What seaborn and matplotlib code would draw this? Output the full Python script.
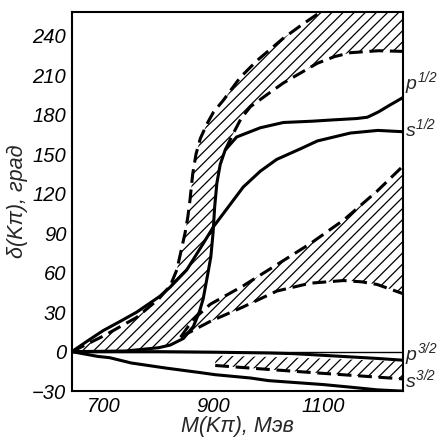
import matplotlib
matplotlib.use("Agg")
import matplotlib.pyplot as plt
import seaborn as sns
import numpy as np
from matplotlib import font_manager

# ---------------- data ----------------
# P1/2 solid curve
p12_x = [642, 740, 800, 821, 845, 863, 874, 881, 889, 895, 899, 902, 906, 912, 921, 942, 985, 1027, 1080, 1118, 1160, 1180, 1200, 1220, 1245]
p12_y = [0, 0.5, 3, 5, 10, 19, 30, 40, 58, 72, 90, 110, 128, 142, 153, 163, 170, 174, 175, 176, 177, 178, 182, 187, 193]

# S1/2 solid curve
s12_x = [642, 670, 699, 730, 760, 802, 821, 851, 863, 881, 900, 936, 954, 985, 1015, 1058, 1089, 1149, 1199, 1245]
s12_y = [0, 8, 16, 23, 30, 42, 49, 62, 70, 82, 95, 115, 125, 137, 146, 154, 160, 166, 168, 167]

# P1/2 band: outer (upper) dashed boundary
p12_up_x = [642, 700, 760, 800, 821, 833, 840, 848, 853, 857, 862, 868, 876, 888, 900, 918, 948, 979, 1027, 1060, 1095, 1150, 1245]
p12_up_y = [0, 12, 26, 40, 50, 62, 75, 90, 102, 115, 135, 150, 162, 173, 182, 191, 208, 221, 238, 248, 258, 270, 285]
# P1/2 band: inner (lower) dashed boundary
p12_lo_x = [921, 935, 950, 967, 1000, 1027, 1060, 1089, 1120, 1149, 1200, 1245]
p12_lo_y = [153, 165, 177, 186, 196, 204, 212, 219, 224, 227, 228.5, 228]

# S1/2 band: upper and lower dashed boundaries
s12_up_x = [840, 862, 894, 954, 1015, 1076, 1137, 1198, 1245]
s12_up_y = [11, 24, 36, 50, 66, 82, 100, 122, 141]
s12_lo_x = [840, 862, 894, 954, 1015, 1076, 1137, 1170, 1198, 1245]
s12_lo_y = [11, 16, 23, 34, 46, 52, 54, 53, 51, 44]

# P3/2 solid curve
p32_x = [642, 800, 900, 1000, 1045, 1100, 1150, 1200, 1245]
p32_y = [0, 0, -0.4, -1.0, -1.5, -2.8, -4.0, -5.2, -6.5]
# S3/2 band (hatched): upper edge and lower dashed edge
s32b_x = [903, 1000, 1100, 1245]
s32b_up = [-3.0, -4.0, -5.2, -7.5]
s32b_lo = [-10.5, -13.5, -16.5, -20.7]

# S3/2 solid curve
s32_x = [642, 689, 711, 750, 812, 872, 903, 967, 1000, 1100, 1150, 1198, 1245]
s32_y = [0, -3.6, -4.6, -8.6, -12.4, -15.7, -17.5, -20, -22, -25, -27, -29, -30]

x_ticks = [700, 900, 1100]
y_ticks = [-30, 0, 30, 60, 90, 120, 150, 180, 210, 240]

curve_labels = [r"$p^{1/2}$", r"$s^{1/2}$", r"$p^{3/2}$", r"$s^{3/2}$"]
curve_label_y = [204, 170, -1.5, -21]

# ---------------- style ----------------
sns.set_style("white")
names = {f.name for f in font_manager.fontManager.ttflist}
fam = "Liberation Sans Narrow" if "Liberation Sans Narrow" in names else "Liberation Sans"
plt.rcParams["font.family"] = [fam, "DejaVu Sans"]
plt.rcParams["font.style"] = "italic"
plt.rcParams["mathtext.fontset"] = "custom"
plt.rcParams["mathtext.it"] = f"{fam}:italic"
plt.rcParams["mathtext.rm"] = f"{fam}:italic"
plt.rcParams["hatch.linewidth"] = 0.9
plt.rcParams["hatch.color"] = "black"

fig = plt.figure(figsize=(4.41, 4.40), dpi=100)
ax = fig.add_axes([0.163, 0.111, 0.751, 0.862])

LW = 2.2
DASH = (4.5, 2.2)
HATCH = "///"

# hatched bands
bx = p12_up_x + p12_lo_x[::-1] + [x for x in p12_x[::-1] if x <= 921]
by = p12_up_y + p12_lo_y[::-1] + [y for x, y in zip(p12_x[::-1], p12_y[::-1]) if x <= 921]
ax.fill(bx, by, facecolor="none", edgecolor="black", hatch=HATCH, linewidth=0)

ax.fill(s12_up_x + s12_lo_x[::-1], s12_up_y + s12_lo_y[::-1],
        facecolor="none", edgecolor="black", hatch=HATCH, linewidth=0)

ax.fill(s32b_x + s32b_x[::-1], s32b_up + s32b_lo[::-1],
        facecolor="none", edgecolor="black", hatch=HATCH, linewidth=0)

# zero line
ax.axhline(0, color="black", lw=1.0)

# solid curves
for xs, ys in [(p12_x, p12_y), (s12_x, s12_y), (p32_x, p32_y), (s32_x, s32_y)]:
    sns.lineplot(x=xs, y=ys, ax=ax, color="black", lw=LW, sort=False, estimator=None)

# dashed curves
for xs, ys in [(p12_up_x, p12_up_y), (p12_lo_x, p12_lo_y), (s12_up_x, s12_up_y),
               (s12_lo_x, s12_lo_y), (s32b_x, s32b_lo)]:
    l = sns.lineplot(x=xs, y=ys, ax=ax, color="black", lw=LW, sort=False, estimator=None)
    l.lines[-1].set_dashes(DASH)

ax.set_xlim(642, 1245)
ax.set_ylim(-30, 258)
ax.set_xticks(x_ticks)
ax.set_yticks(y_ticks)
ax.set_yticklabels([("\u2212" + str(-v)) if v < 0 else str(v) for v in y_ticks])
ax.tick_params(direction="in", length=6, width=1.5, labelsize=14.5, pad=4, colors="black")
for s in ax.spines.values():
    s.set_linewidth(1.5)
    s.set_color("black")

ax.set_xlabel("M(Kπ), Мэв", fontsize=15.5, labelpad=0)
ax.set_ylabel("δ(Kπ), град", fontsize=15.5, labelpad=3)

for t, yv in zip(curve_labels, curve_label_y):
    ax.text(1248, yv, t, fontsize=14, ha="left", va="center", clip_on=False)

fig.savefig("out.png", dpi=100)
